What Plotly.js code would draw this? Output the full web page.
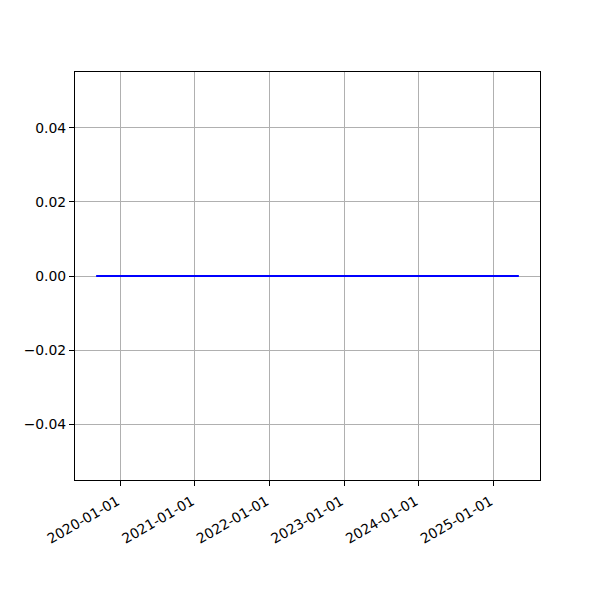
<!DOCTYPE html>
<html>
<head>
<meta charset="utf-8">
<script src="https://cdn.plot.ly/plotly-3.0.1.min.js"></script>
<style>html,body{margin:0;padding:0;background:#fff;}#chart{width:600px;height:600px;}</style>
</head>
<body>
<div id="chart"></div>
<script>
const dates = ["2019-09-05", "2025-05-06"];
const values = [0, 0];
const xTickVals = ["2020-01-01", "2021-01-01", "2022-01-01", "2023-01-01", "2024-01-01", "2025-01-01"];
const yTickVals = [-0.04, -0.02, 0.0, 0.02, 0.04];
const yTickText = ["\u22120.04", "\u22120.02", "0.00", "0.02", "0.04"];

const t0 = new Date(dates[0] + "T00:00:00Z").getTime();
const t1 = new Date(dates[dates.length - 1] + "T00:00:00Z").getTime();
const pad = (t1 - t0) * 0.05;
const fmt = t => new Date(t).toISOString().slice(0, 19).replace("T", " ");

const font = {family: "DejaVu Sans", size: 13.9, color: "#000"};
Plotly.newPlot("chart", [{
  x: dates, y: values, type: "scatter", mode: "lines",
  line: {color: "#0000ff", width: 2}, hoverinfo: "skip"
}], {
  width: 600, height: 600,
  margin: {l: 75, r: 60, t: 72, b: 120, pad: 0},
  paper_bgcolor: "#fff", plot_bgcolor: "#fff",
  showlegend: false,
  font: font,
  xaxis: {
    type: "date", range: [fmt(t0 - pad), fmt(t1 + pad)],
    tickmode: "array", tickvals: xTickVals, ticktext: xTickVals,
    tickangle: -30, ticks: "outside", ticklen: 5, tickcolor: "#000", tickwidth: 1,
    ticklabelstandoff: 2, ticklabelshift: -3,
    showgrid: true, gridcolor: "#b0b0b0", gridwidth: 1,
    showline: true, linecolor: "#000", linewidth: 1, mirror: true,
    zeroline: false, tickfont: font
  },
  yaxis: {
    range: [-0.055, 0.055],
    tickmode: "array", tickvals: yTickVals, ticktext: yTickText,
    ticks: "outside", ticklen: 5, tickcolor: "#000", tickwidth: 1,
    showgrid: true, gridcolor: "#b0b0b0", gridwidth: 1,
    showline: true, linecolor: "#000", linewidth: 1, mirror: true,
    zeroline: false, tickfont: font
  }
}, {staticPlot: true});
</script>
</body>
</html>
